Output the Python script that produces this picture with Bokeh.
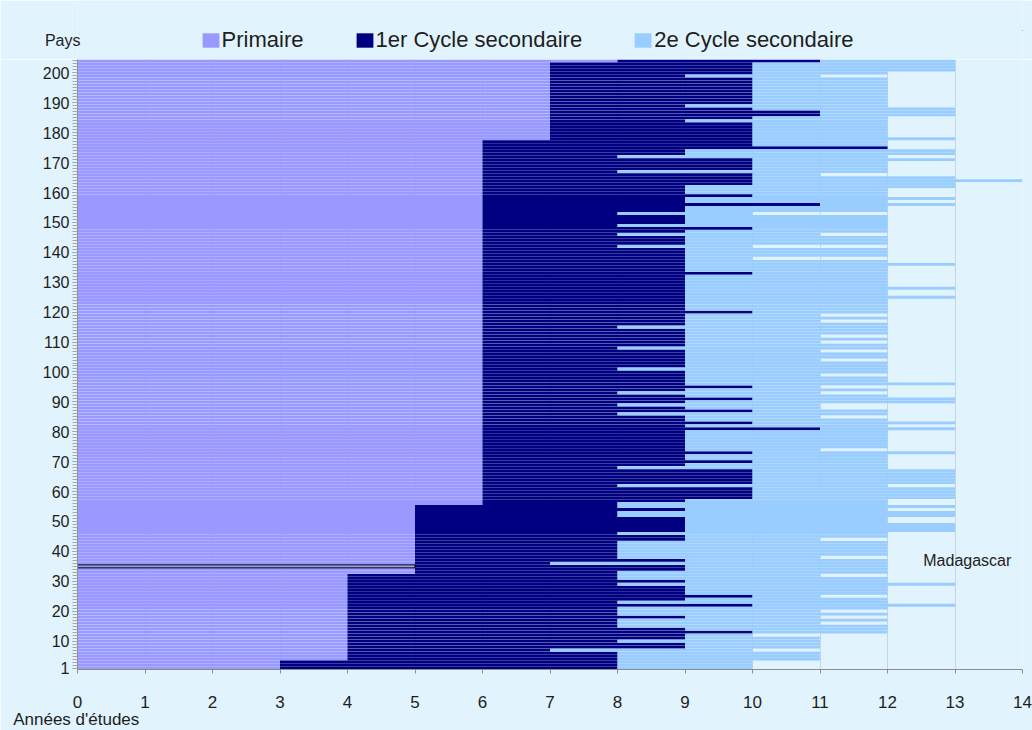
import numpy as np
from bokeh.plotting import figure
from bokeh.layouts import column
from bokeh.models import ColumnDataSource, FixedTicker, Legend, LegendItem, Label, Range1d, Title
from bokeh.embed import file_html
from bokeh.resources import INLINE

# ---- data: runs of consecutive countries, bottom (rank 1) to top ----
# number of countries in each run
nb_pays = [
    3, 3, 1, 2, 1, 1, 1, 1, 1, 1,
    1, 1, 1, 1, 1, 1, 1, 1, 1, 1,
    3, 1, 1, 1, 1,
    1, 2, 1, 1, 1, 5, 1, 1, 1, 3, 2, 2, 1, 1,
    1, 1, 4, 1, 5, 1, 1, 1, 2, 1, 1,
    6, 1, 1, 1, 1, 1, 1, 1, 1, 1,
    1, 1, 1, 1, 1, 1, 1, 2, 1, 1,
    1, 2, 1, 2, 1, 1, 1, 1, 1, 1,
    2, 1, 1, 1, 1, 1, 1, 4, 1, 2,
    1, 4, 1, 2, 1, 1, 1, 3, 1, 3,
    1, 1, 1, 1, 3, 1, 2, 1, 1, 1,
    1, 2, 1, 1, 1, 1, 1, 1, 3, 1,
    1, 2, 1, 2,
    1, 5, 1, 1, 2, 1, 1, 9, 1, 1, 3, 1]
# end of primary (years)
fin_primaire = [
    3, 4, 4, 4, 4, 4, 4, 4, 4, 4,
    4, 4, 4, 4, 4, 4, 4, 4, 4, 4,
    4, 4, 4, 4, 4,
    5, 5, 5, 5, 5, 5, 5, 5, 5, 5, 5, 5, 5, 5,
    6, 6, 6, 6, 6, 6, 6, 6, 6, 6, 6,
    6, 6, 6, 6, 6, 6, 6, 6, 6, 6,
    6, 6, 6, 6, 6, 6, 6, 6, 6, 6,
    6, 6, 6, 6, 6, 6, 6, 6, 6, 6,
    6, 6, 6, 6, 6, 6, 6, 6, 6, 6,
    6, 6, 6, 6, 6, 6, 6, 6, 6, 6,
    6, 6, 6, 6, 6, 6, 6, 6, 6, 6,
    6, 6, 6, 6, 6, 6, 6, 6, 6, 6,
    6, 6, 6, 6,
    7, 7, 7, 7, 7, 7, 7, 7, 7, 7, 7, 8]
# end of 1st cycle of secondary (years)
fin_premier_cycle = [
    8, 8, 7, 9, 8, 9, 9, 10, 9, 8,
    8, 8, 9, 8, 8, 8, 10, 8, 9, 10,
    9, 8, 9, 8, 8,
    8, 9, 7, 9, 8, 8, 9, 9, 8, 9, 9, 8, 9, 8,
    8, 9, 10, 8, 10, 8, 9, 10, 9, 10, 9,
    9, 11, 9, 10, 9, 9, 8, 10, 9, 8,
    9, 10, 9, 8, 9, 10, 9, 9, 9, 9,
    8, 9, 9, 9, 9, 8, 9, 9, 9, 9,
    9, 8, 9, 9, 9, 9, 10, 9, 9, 9,
    9, 9, 10, 9, 9, 9, 9, 9, 8, 9,
    8, 9, 10, 8, 9, 8, 9, 11, 9, 9,
    10, 9, 9, 10, 10, 10, 10, 8, 10, 10,
    8, 9, 12, 10,
    10, 10, 9, 10, 11, 10, 9, 10, 9, 10, 10, 11]
# end of 2nd cycle of secondary (years)
fin_second_cycle = [
    10, 11, 10, 11, 11, 11, 10, 12, 12, 12,
    11, 12, 11, 12, 11, 12, 13, 12, 12, 11,
    12, 13, 12, 12, 11,
    12, 12, 12, 12, 11, 12, 11, 12, 12, 13, 12, 13, 12, 13,
    12, 12, 13, 12, 13, 12, 12, 12, 12, 13, 11,
    12, 13, 12, 13, 12, 11, 12, 12, 11, 11,
    13, 13, 12, 11, 12, 11, 13, 12, 11, 12,
    12, 12, 11, 12, 11, 12, 12, 11, 12, 11,
    12, 12, 12, 11, 12, 11, 12, 12, 13, 12,
    13, 12, 12, 12, 13, 12, 10, 12, 10, 12,
    11, 12, 12, 12, 12, 10, 12, 13, 12, 13,
    12, 12, 13, 13, 14, 13, 11, 12, 12, 13,
    12, 13, 12, 12,
    13, 12, 12, 12, 13, 13, 12, 12, 11, 12, 13, 13]
madagascar = 35  # rank of Madagascar (outlined bar)

y_ticks = [1] + list(range(10, 201, 10))
x_ticks = list(range(0, 15))

# ---- expand runs into one row per country ----
prim_end = np.repeat(fin_primaire, nb_pays)
low_end = np.repeat(fin_premier_cycle, nb_pays)
up_end = np.repeat(fin_second_cycle, nb_pays)
n = len(prim_end)
rank = np.arange(1, n + 1)

src = ColumnDataSource(dict(y=rank, p0=np.zeros(n), p1=prim_end, l1=low_end, u1=up_end))

BG = "#E1F3FC"
C_PRIM = "#9999FF"
C_LOW = "#000080"
C_UP = "#99CCFF"
FONT = "Liberation Sans"
TXT = "#1E1E1E"

W = 1032
LEFT = 77
RIGHT = 10
HEAD_H = 59
MAIN_H = 730 - HEAD_H

# ---------------- header strip: "Pays" + legend ----------------
head = figure(width=W, height=HEAD_H, output_backend="svg", toolbar_location=None,
              x_range=Range1d(0, 1), y_range=Range1d(HEAD_H, 0),
              x_axis_location=None, min_border_left=LEFT, min_border_right=RIGHT,
              min_border_top=0, min_border_bottom=0)
head.grid.visible = False
head.background_fill_color = BG
head.border_fill_color = BG
head.outline_line_color = None
# "Pays" as the header's single left tick label
head.yaxis.ticker = FixedTicker(ticks=[40])
head.yaxis.major_label_overrides = {40: "Pays"}
head.yaxis.axis_line_color = None
head.yaxis.major_tick_line_color = None
head.yaxis.minor_tick_line_color = None
head.yaxis.major_tick_out = 0
head.yaxis.major_tick_in = 0
head.yaxis.major_label_standoff = -3
head.yaxis.major_label_text_font = FONT
head.yaxis.major_label_text_font_size = "16px"
head.yaxis.major_label_text_color = TXT

# legend proxies (one bar each, placed beyond the strip's x range so never visible)
d1 = head.hbar(y=[30], left=[10], right=[11], height=1, fill_color=C_PRIM, line_color=None)
d2 = head.hbar(y=[30], left=[10], right=[11], height=1, fill_color=C_LOW, line_color=None)
d3 = head.hbar(y=[30], left=[10], right=[11], height=1, fill_color=C_UP, line_color=None)
legend = Legend(items=[LegendItem(label="Primaire", renderers=[d1]),
                       LegendItem(label="1er Cycle secondaire", renderers=[d2]),
                       LegendItem(label="2e Cycle secondaire", renderers=[d3])],
                orientation="horizontal", location=(199.6 - LEFT, 6.5),
                padding=0, margin=0, spacing=50, glyph_width=21, glyph_height=18,
                label_standoff=1, label_text_font=FONT, label_text_font_size="22px",
                label_text_color=TXT, border_line_color=None, background_fill_alpha=0)
head.add_layout(legend)

# ---------------- main chart ----------------
p = figure(width=W, height=MAIN_H, output_backend="svg", toolbar_location=None,
           x_range=Range1d(0, 14), y_range=Range1d(0.5, n + 0.5),
           min_border_left=LEFT, min_border_right=RIGHT, min_border_top=0, min_border_bottom=61)
p.background_fill_color = BG
p.border_fill_color = BG
p.outline_line_color = None

H = 0.95
r1 = p.hbar(y="y", left="p0", right="p1", height=H, source=src, fill_color=C_PRIM, line_color=None)
r2 = p.hbar(y="y", left="p1", right="l1", height=H, source=src, fill_color=C_LOW, line_color=None)
r3 = p.hbar(y="y", left="l1", right="u1", height=H, source=src, fill_color=C_UP, line_color=None)

mi = madagascar - 1
p.hbar(y=[rank[mi]], left=[0], right=[prim_end[mi]], height=1.0,
       fill_color=None, line_color="black", line_width=1)

# grid
p.ygrid.grid_line_color = None
p.xgrid.ticker = FixedTicker(ticks=x_ticks)
p.xgrid.grid_line_color = "#C2D6E4"
p.xgrid.grid_line_width = 1

# axes
p.xaxis.ticker = FixedTicker(ticks=x_ticks)
p.yaxis.ticker = FixedTicker(ticks=y_ticks, minor_ticks=list(range(1, n + 1)))
for ax in (p.xaxis[0], p.yaxis[0]):
    ax.axis_line_color = "#8C8C8C"
    ax.major_tick_line_color = "#8C8C8C"
    ax.minor_tick_line_color = "#A8A8A8"
    ax.major_tick_in = 0
    ax.minor_tick_in = 0
    ax.major_label_text_font = FONT
    ax.major_label_text_color = TXT
p.xaxis.minor_tick_line_color = None
p.xaxis.major_tick_out = 4
p.xaxis.major_label_standoff = 22
p.xaxis.major_label_text_font_size = "17px"
p.yaxis.major_tick_out = 5
p.yaxis.minor_tick_out = 5
p.yaxis.major_label_standoff = 3
p.yaxis.major_label_text_font_size = "16px"

p.add_layout(Title(text="Années d'études", align="left", offset=12.7 - LEFT, standoff=-6,
                   text_font=FONT, text_font_size="17px", text_font_style="normal",
                   text_color=TXT), "below")

p.add_layout(Label(x=12.53, y=madagascar + 2.1, text="Madagascar", text_font=FONT, text_font_size="16px",
                   text_color=TXT, text_align="left", text_baseline="middle"))

layout = column(head, p, spacing=0)
html = file_html(layout, INLINE)
html = html.replace("<body>", '<body style="background:%s;">' % BG, 1)
open("out.html", "w").write(html)
